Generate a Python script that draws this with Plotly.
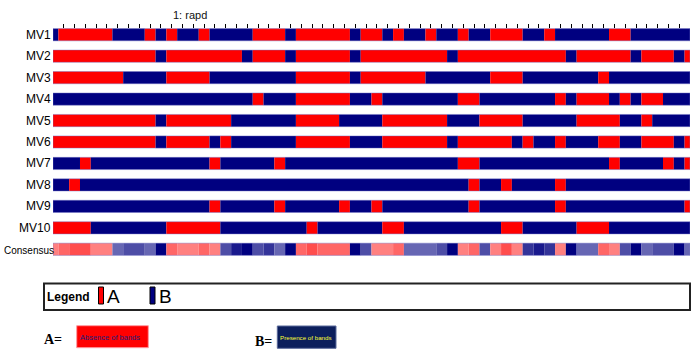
import plotly.graph_objects as go

# ---------------- data ----------------
# band positions (columns of the RAPD profile)
positions = list(range(60))
row_labels = ["MV1", "MV2", "MV3", "MV4", "MV5", "MV6", "MV7", "MV8", "MV9", "MV10"]
consensus_label = "Consensus"
title_text = "1: rapd"

# A = absence of band, B = presence of band (one letter per position)
mv1 = "BAAAAABBBA" "BABBABBBBA" "AABAAAAABA" "ABABBABBAB" "BAAABBABBB" "BBAABBBBBB"
mv2 = "AAAAAAAAAA" "BAAAAAAABA" "AABAAAAABA" "AAAAAAABAA" "AAAAAAAABA" "AAAABAAABA"
mv3 = "AAAAAAABBB" "BAAAABBBBB" "BBBAAAAABA" "AAAAABBBBB" "BAAABBBBBB" "BABBBBBBBB"
mv4 = "BBBBBBBBBB" "BBBBBBBBBA" "BBBAAAAABB" "ABBBBBBBAA" "BBBBBBBABA" "AABABAABBB"
mv5 = "AAAAAAAAAA" "BAAAAAABBB" "BBBAAAABBB" "BAAAAAABBB" "AAAABBBBBA" "AAABBABBBB"
mv6 = "AAAAAAAAAA" "BAAAABABBB" "BBBAAAAABB" "BAAAAAABAA" "AAABABBABB" "BAABBAAABA"
mv7 = "BBBABBBBBB" "BBBBBABBBB" "BABBBBBBBB" "BBBBBBBBAA" "BBBBBBBBBB" "BBABBBBABA"
mv8 = "BBABBBBBBB" "BBBBBBBBBB" "BBBBBBBBBB" "BBBBBBBBBA" "BBABBBBABB" "BBBBBBBBBB"
mv9 = "BBBBBBBBBB" "BBBBBABBBB" "BABBBBBABB" "ABBBBBBBBA" "BBBBBBBABB" "BBBBBBBBBA"
mv10 = "AAAABBBBBB" "BAAAAABBBB" "BBBBABBBBB" "BAABBBBBBB" "BBAABBBBBA" "AABBBBBBBB"
profiles = [mv1, mv2, mv3, mv4, mv5, mv6, mv7, mv8, mv9, mv10]

legend_items = ["A", "B"]
legend_meaning = ["Absence of bands", "Presence of bands"]

# ---------------- styles ----------------
RED = (255, 0, 0)
NAVY = (0, 0, 128)
state_color = {"A": "rgb(255,0,0)", "B": "rgb(0,0,128)"}


def blend(rgb, a):
    return "rgb(%d,%d,%d)" % tuple(round(255 * (1 - a) + c * a) for c in rgb)


def runs(values):
    out = []
    start = 0
    for i in range(1, len(values) + 1):
        if i == len(values) or values[i] != values[start]:
            out.append((positions[start], i - start, values[start]))
            start = i
    return out


# consensus colour per position from share of absent bands
n = len(profiles)
consensus = []
for k in range(len(positions)):
    na = sum(1 for p in profiles if p[k] == "A")
    if 2 * na >= n:
        consensus.append(blend(RED, na / n))
    else:
        consensus.append(blend(NAVY, (n - na) / n))

W, H = 700, 355
ML, MR, MT, MB = 53, 10, 24, 95
PW = W - ML - MR
PH = H - MT - MB


def xp(px):
    return (px - ML) / PW


def yp(py):
    return (MT + PH - py) / PH


BAR_W = 0.57
fig = go.Figure()

all_rows = [(row_labels[i], profiles[i], None) for i in range(n)] + [(consensus_label, None, consensus)]
for yi, (lab, prof, cons) in enumerate(all_rows):
    seq = list(prof) if prof is not None else cons
    rr = runs(seq)
    cols = [state_color[s] if prof is not None else s for (_, _, s) in rr]
    fig.add_trace(go.Bar(
        orientation="h",
        y=[yi] * len(rr),
        x=[ln for (_, ln, _) in rr],
        base=[st - 0.5 for (st, _, _) in rr],
        width=BAR_W,
        marker=dict(color=cols, line=dict(width=0)),
        name=lab, showlegend=False, hoverinfo="skip",
    ))
    # faint outline of the row
    fig.add_trace(go.Bar(
        orientation="h", y=[yi], x=[positions[-1] - positions[0]], base=[positions[0]],
        width=BAR_W,
        marker=dict(color="rgba(0,0,0,0)", line=dict(width=1, color="rgba(120,120,200,0.45)")),
        showlegend=False, hoverinfo="skip",
    ))

annotations = []
FONT = "Liberation Sans, Arial, sans-serif"
for yi, lab in enumerate(row_labels):
    annotations.append(dict(
        x=xp(50.5), xref="paper", y=yi, yref="y", text=lab, showarrow=False,
        xanchor="right", yanchor="middle", borderpad=0, borderwidth=0,
        font=dict(family=FONT, size=12, color="#000")))
annotations.append(dict(
    x=xp(53.5), xref="paper", y=len(row_labels), yref="y", yshift=-1, text=consensus_label,
    showarrow=False, xanchor="right", yanchor="middle", borderpad=0, borderwidth=0,
    font=dict(family=FONT, size=10, color="#000")))
annotations.append(dict(
    x=xp(189.7), xref="paper", y=yp(14.5), yref="paper", text=title_text, showarrow=False,
    xanchor="center", yanchor="middle", borderpad=0, borderwidth=0,
    font=dict(family=FONT, size=11, color="#111")))

# legend box contents
annotations.append(dict(
    x=xp(46.5), xref="paper", y=yp(297), yref="paper", text="<b>Legend</b>", showarrow=False,
    xanchor="left", yanchor="middle", borderpad=0, borderwidth=0,
    font=dict(family=FONT, size=12, color="#000")))
for lab, xl in zip(legend_items, [106.5, 158.5]):
    annotations.append(dict(
        x=xp(xl), xref="paper", y=yp(296), yref="paper", text=lab, showarrow=False,
        xanchor="left", yanchor="middle", borderpad=0, borderwidth=0,
        font=dict(family=FONT, size=19, color="#000")))

SERIF = "Liberation Serif, Times New Roman, serif"
annotations += [
    dict(x=xp(43.5), xref="paper", y=yp(339), yref="paper", text="<b>%s=</b>" % legend_items[0],
         showarrow=False, xanchor="left", yanchor="middle", borderpad=0, borderwidth=0,
         font=dict(family=SERIF, size=14, color="#000")),
    dict(x=xp(79.5), xref="paper", y=yp(337), yref="paper", text=legend_meaning[0],
         showarrow=False, xanchor="left", yanchor="middle", borderpad=0, borderwidth=0,
         font=dict(family=FONT, size=7.5, color="#20207a")),
    dict(x=xp(254.5), xref="paper", y=yp(341), yref="paper", text="<b>%s=</b>" % legend_items[1],
         showarrow=False, xanchor="left", yanchor="middle", borderpad=0, borderwidth=0,
         font=dict(family=SERIF, size=14, color="#000")),
    dict(x=xp(280), xref="paper", y=yp(337), yref="paper", text=legend_meaning[1],
         showarrow=False, xanchor="left", yanchor="middle", borderpad=0, borderwidth=0,
         font=dict(family=FONT, size=6.2, color="#ffff33")),
]

shapes = [
    dict(type="rect", xref="paper", yref="paper", x0=xp(44), x1=xp(690), y0=yp(310), y1=yp(283.5),
         line=dict(color="#222", width=2), fillcolor="rgba(0,0,0,0)"),
    dict(type="rect", xref="paper", yref="paper", x0=xp(98.5), x1=xp(103.5), y0=yp(304), y1=yp(287),
         line=dict(color="#000", width=1), fillcolor=state_color["A"]),
    dict(type="rect", xref="paper", yref="paper", x0=xp(150), x1=xp(155), y0=yp(304), y1=yp(287),
         line=dict(color="#000", width=1), fillcolor=state_color["B"]),
    dict(type="rect", xref="paper", yref="paper", x0=xp(76.7), x1=xp(148.3), y0=yp(347.7), y1=yp(325.7),
         line=dict(color="#ff9aa0", width=1), fillcolor="#ff0000", layer="below"),
    dict(type="rect", xref="paper", yref="paper", x0=xp(277.3), x1=xp(336), y0=yp(348.3), y1=yp(326),
         line=dict(color="#5a6a9a", width=1), fillcolor="#0c1f5c", layer="below"),
]

fig.update_layout(
    width=W, height=H,
    margin=dict(l=ML, r=MR, t=MT, b=MB, pad=0),
    paper_bgcolor="white", plot_bgcolor="white",
    barmode="overlay",
    showlegend=False,
    annotations=annotations,
    shapes=shapes,
    xaxis=dict(range=[positions[0], positions[-1]], side="top", tickvals=positions,
               ticks="inside", ticklen=4, tickwidth=1, tickcolor="#000",
               showticklabels=False, showgrid=False, zeroline=False, showline=False,
               fixedrange=True),
    yaxis=dict(range=[len(row_labels) + 0.5, -0.5], showticklabels=False, ticks="",
               showgrid=False, zeroline=False, showline=False, fixedrange=True),
)

fig.write_html(
    "out.html",
    config={"displayModeBar": False},
    post_script="document.body.style.margin='0';document.body.style.overflow='hidden';",
)
